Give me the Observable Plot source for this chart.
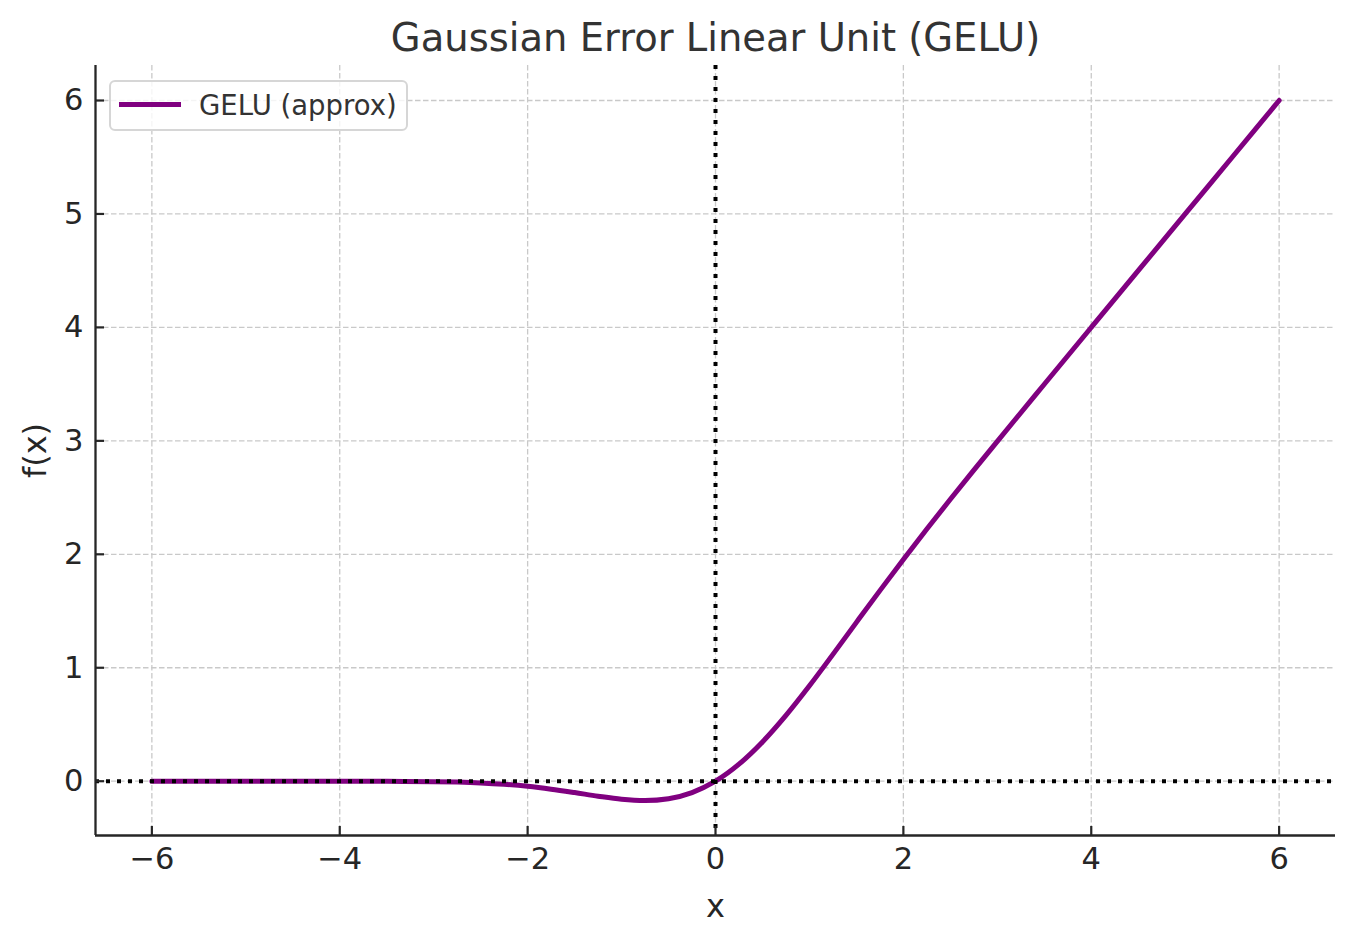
<!DOCTYPE html>
<html>
<head>
<meta charset="utf-8">
<script src="https://cdn.jsdelivr.net/npm/d3@7"></script>
<script src="https://cdn.jsdelivr.net/npm/@observablehq/plot@0.6"></script>
<style>
  html, body { margin: 0; padding: 0; background: #fff; }
  #wrap { position: relative; width: 1355px; height: 943px; font-family: "DejaVu Sans", sans-serif; }
  #legend {
    position: absolute; left: 109px; top: 80px; width: 295px; height: 47px;
    border: 2px solid #d6d6d6; border-radius: 6px; background: rgba(255,255,255,0.8);
    box-sizing: content-box;
  }
  #legend .sw { position: absolute; left: 8px; top: 20px; width: 62px; height: 0; border-top: 5px solid #800080; }
  #legend .lb { position: absolute; left: 88px; top: 5px; font-size: 27.5px; line-height: 36px; color: #333; white-space: nowrap; }
</style>
</head>
<body>
<div id="wrap"></div>
<script>
// Data
const xValues = [-6,-5.5,-5,-4.5,-4,-3.5,-3,-2.75,-2.5,-2.25,-2,-1.75,-1.5,-1.25,-1,-0.75,-0.5,-0.25,0,0.25,0.5,0.75,1,1.25,1.5,1.75,2,2.25,2.5,2.75,3,3.5,4,4.5,5,5.5,6];
const geluValues = [0,0,0,0,-0.0001,-0.001,-0.004,-0.008,-0.015,-0.027,-0.045,-0.070,-0.100,-0.132,-0.159,-0.170,-0.154,-0.100,0,0.150,0.346,0.580,0.841,1.118,1.400,1.680,1.955,2.223,2.485,2.742,2.996,3.499,4.000,4.500,5.000,5.500,6.000];
const xTicks = [-6,-4,-2,0,2,4,6];
const yTicks = [0,1,2,3,4,5,6];
const seriesName = "GELU (approx)";
const titleText = "Gaussian Error Linear Unit (GELU)";
const xLabel = "x";
const yLabel = "f(x)";

const data = xValues.map((x, i) => ({x, y: geluValues[i]}));
const xDomain = [-6.6, 6.6];
const yDomain = [-0.4785, 6.3085];

const W = 1355, H = 943, mL = 95, mR = 20, mT = 65, mB = 108;
const frameW = W - mL - mR, frameH = H - mT - mB;
const gridStyle = {stroke: "#c9c9c9", strokeOpacity: 1, strokeWidth: 1.3, strokeDasharray: "5.5,2.5"};
const dotStyle = {stroke: "#000", strokeWidth: 4, strokeDasharray: "4,7"};
const fmt = d3.format("d");

const chart = Plot.plot({
  width: W, height: H,
  marginLeft: mL, marginRight: mR, marginTop: mT, marginBottom: mB,
  x: {domain: xDomain},
  y: {domain: yDomain},
  style: {fontFamily: "DejaVu Sans, sans-serif", background: "transparent", color: "#262626"},
  marks: [
    Plot.gridX(xTicks, gridStyle),
    Plot.gridY(yTicks, gridStyle),
    Plot.line(data, {x: "x", y: "y", stroke: "#800080", strokeWidth: 5, curve: "monotone-x"}),
    Plot.ruleX([0], dotStyle),
    Plot.ruleY([0], dotStyle),
    Plot.ruleX([xDomain[0]], {stroke: "#262626", strokeWidth: 2.3}),
    Plot.ruleY([yDomain[0]], {stroke: "#262626", strokeWidth: 2.3}),
    Plot.tickX(xTicks, {x: d => d, stroke: "#262626", strokeWidth: 2.2, insetTop: frameH - 9}),
    Plot.tickY(yTicks, {y: d => d, stroke: "#262626", strokeWidth: 2.2, insetRight: frameW - 9}),
    Plot.axisX(xTicks, {tickSize: 0, tickPadding: 12, fontSize: 30.5, label: null, fill: "#262626", tickFormat: fmt}),
    Plot.axisY(yTicks, {tickSize: 0, tickPadding: 12, fontSize: 30.5, label: null, fill: "#262626", tickFormat: fmt}),
    Plot.text([xLabel], {text: d => d, frameAnchor: "bottom", dy: 71.5, fontSize: 32, fill: "#262626", lineAnchor: "middle", textAnchor: "middle"}),
    Plot.text([yLabel], {text: d => d, frameAnchor: "left", dx: -60, rotate: -90, fontSize: 32, fill: "#262626", lineAnchor: "middle", textAnchor: "middle"}),
    Plot.text([titleText], {text: d => d, frameAnchor: "top", dy: -15, fontSize: 38.5, fill: "#333333", lineAnchor: "bottom", textAnchor: "middle"})
  ]
});
const wrap = document.getElementById("wrap");
wrap.appendChild(chart);
const lg = document.createElement("div");
lg.id = "legend";
lg.innerHTML = '<div class="sw"></div><div class="lb"></div>';
lg.querySelector(".lb").textContent = seriesName;
wrap.appendChild(lg);
</script>
</body>
</html>
